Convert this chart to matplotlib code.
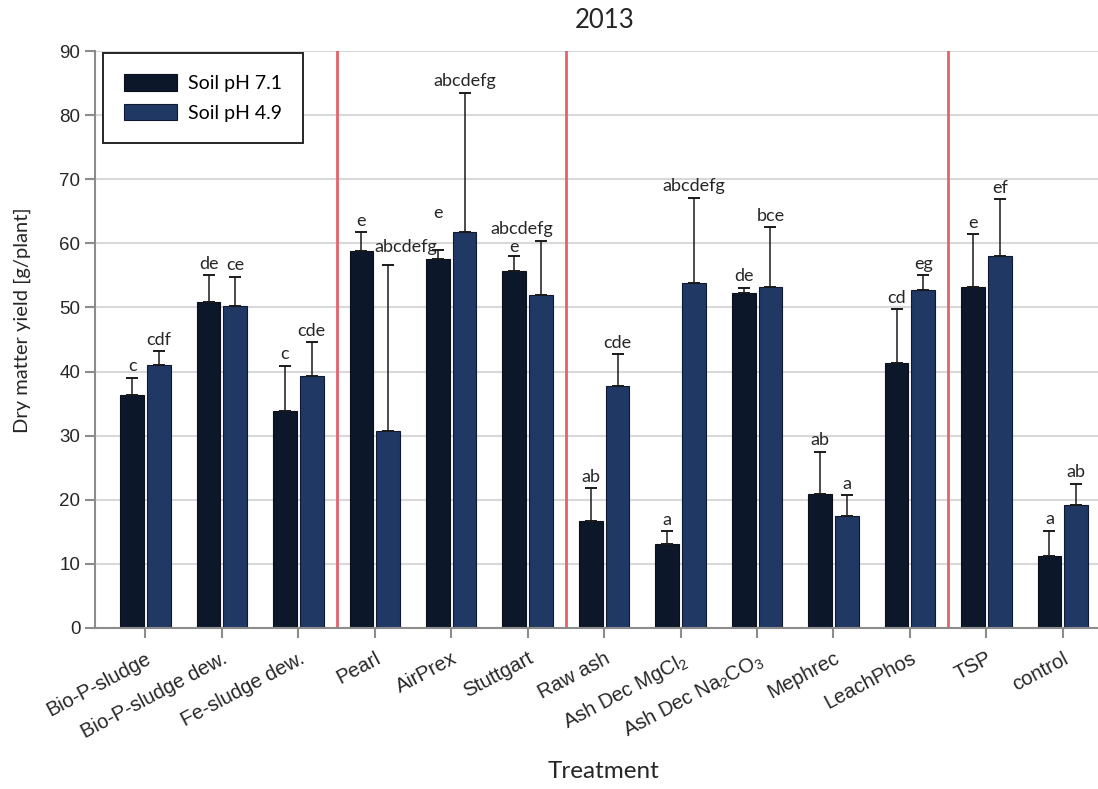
import numpy as np
import matplotlib
matplotlib.use('Agg')
import matplotlib.pyplot as plt

plt.rcParams['font.family'] = ['Liberation Sans', 'DejaVu Sans']
plt.rcParams['mathtext.default'] = 'regular'

# treatments and yields (mean and upper error) for both soils
treatments = ['Bio-P-sludge', 'Bio-P-sludge dew.', 'Fe-sludge dew.', 'Pearl', 'AirPrex',
              'Stuttgart', 'Raw ash', 'Ash Dec MgCl$_2$', 'Ash Dec Na$_2$CO$_3$',
              'Mephrec', 'LeachPhos', 'TSP', 'control']
ph71 = [36.3, 50.9, 33.9, 58.8, 57.6, 55.7, 16.7, 13.1, 52.2, 20.9, 41.4, 53.2, 11.2]
ph71_err = [2.7, 4.1, 7.0, 2.9, 1.3, 2.3, 5.1, 2.0, 0.9, 6.6, 8.3, 8.2, 4.0]
ph49 = [41.1, 50.3, 39.3, 30.7, 61.7, 52.0, 37.8, 53.8, 53.2, 17.4, 52.7, 58.1, 19.2]
ph49_err = [2.1, 4.5, 5.3, 25.9, 21.8, 8.4, 4.9, 13.3, 9.3, 3.3, 2.3, 8.8, 3.3]
ph71_letters = ['c', 'de', 'c', 'e', 'e', 'e', 'ab', 'a', 'de', 'ab', 'cd', 'e', 'a']
ph49_letters = ['cdf', 'ce', 'cde', 'abcdefg', 'abcdefg', 'abcdefg', 'cde', 'abcdefg',
                'bce', 'a', 'eg', 'ef', 'ab']
group_breaks = [2.5, 5.5, 10.5]

c71 = '#0c1729'
c49 = '#1f3864'
w = 0.31
x = np.arange(len(treatments))

fig = plt.figure(figsize=(10.98, 7.89), dpi=100)
ax = fig.add_axes([95 / 1098, 1 - 628 / 789, 1 - 95 / 1098, (628 - 51) / 789])

ax.yaxis.grid(True, color='#d9d9d9', lw=1.5)
ax.set_axisbelow(True)

for b in group_breaks:
    ax.axvline(b, color='#e5626a', lw=2, zorder=1)

ax.bar(x - 0.175, ph71, w, color=c71, edgecolor='#0a0f1a', lw=0.8, label='Soil pH 7.1', zorder=2)
ax.bar(x + 0.175, ph49, w, color=c49, edgecolor='#0f1a30', lw=0.8, label='Soil pH 4.9', zorder=2)
ax.errorbar(x - 0.175, ph71, yerr=[np.zeros(len(x)), ph71_err], fmt='none',
            ecolor='#1a1a1a', elinewidth=1.1, capsize=4, capthick=1.4, zorder=3)
ax.errorbar(x + 0.175, ph49, yerr=[np.zeros(len(x)), ph49_err], fmt='none',
            ecolor='#1a1a1a', elinewidth=1.1, capsize=4, capthick=1.4, zorder=3)

# letters above the error bars, a few shifted so they don't collide
nudge = {(0, 4): (0, 19), (0, 5): (0, -2), (1, 3): (13, 5), (1, 5): (-14, 0)}
for s, (vals, errs, lets, dx) in enumerate([(ph71, ph71_err, ph71_letters, -0.175),
                                            (ph49, ph49_err, ph49_letters, 0.175)]):
    for i in range(len(x)):
        ox, oy = nudge.get((s, i), (0, 0))
        ax.annotate(lets[i], (x[i] + dx, vals[i] + errs[i]), xytext=(ox, 2.5 + oy),
                    textcoords='offset points', ha='center', va='bottom',
                    fontsize=13, family='Lato', color='#262626')

ax.set_xlim(-0.66, 12.46)
ax.set_ylim(0, 90)
ax.set_yticks(np.arange(0, 91, 10))
ax.set_xticks(x)
ax.set_xticklabels(treatments, rotation=28, ha='right', rotation_mode='anchor', fontsize=14.5)
ax.tick_params(axis='both', direction='out', length=7, width=1.5, color='#8c8c8c',
               labelcolor='#262626')
ax.tick_params(axis='x', pad=8)
ax.tick_params(axis='y', labelsize=13.5)
for sp in ['top', 'right']:
    ax.spines[sp].set_visible(False)
for sp in ['left', 'bottom']:
    ax.spines[sp].set_color('#8c8c8c')
    ax.spines[sp].set_linewidth(1.5)

fig.text(22 / 1098, 1 - 320 / 789, 'Dry matter yield [g/plant]', rotation=90,
         ha='center', va='center', fontsize=14.5, family='Lato', color='#262626')
fig.text(604 / 1098, 1 - 772 / 789, 'Treatment', ha='center', va='center',
         fontsize=17.5, family='Lato', color='#262626')
fig.text(605 / 1098, 1 - 20 / 789, '2013', ha='center', va='center',
         fontsize=18.5, family='Lato', color='#262626')

leg = ax.legend(loc='upper left', bbox_to_anchor=(103 / 1098, 1 - 53 / 789),
                bbox_transform=fig.transFigure, borderaxespad=0, fancybox=False,
                edgecolor='#262626', framealpha=1, prop={'family': 'Lato', 'size': 14},
                handlelength=2.7, handleheight=0.9, borderpad=1.1, labelspacing=0.6,
                handletextpad=0.55)
leg.get_frame().set_linewidth(1.4)

fig.savefig('out.png', dpi=100)
